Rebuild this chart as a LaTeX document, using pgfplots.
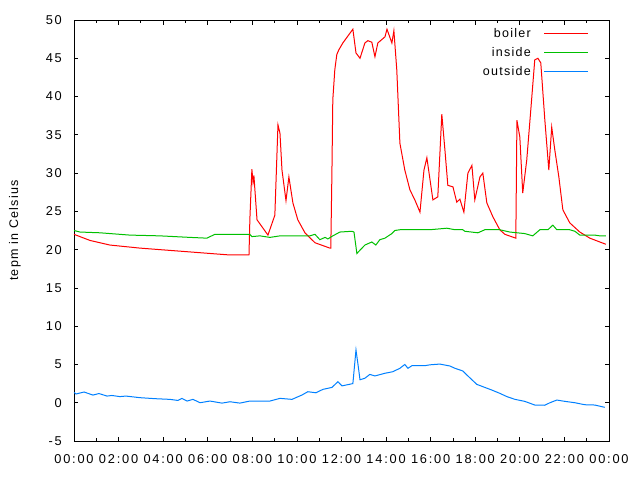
\documentclass[border=0pt]{standalone}
\usepackage{fontspec}
\setmainfont{Liberation Sans}[LetterSpace=10]
\newfontfamily\tickfont{Liberation Sans}[LetterSpace=14]
\usepackage{pgfplots}
\pgfplotsset{compat=1.18}
\definecolor{gpred}{RGB}{255,0,0}
\definecolor{gpgreen}{RGB}{0,192,0}
\definecolor{gpblue}{RGB}{0,128,255}
\begin{document}
\begin{tikzpicture}[font=\fontsize{12.5pt}{15pt}\selectfont]
\useasboundingbox (-74pt,-39pt) rectangle (566pt,441pt);
\begin{axis}[
  at={(0,0)}, anchor=south west,
  scale only axis, width=535pt, height=421pt,
  xmin=0, xmax=24, ymin=-5, ymax=50,
  xtick={0,2,...,24},
  xticklabels={00:00,02:00,04:00,06:00,08:00,10:00,12:00,14:00,16:00,18:00,20:00,22:00,00:00},
  minor xtick={1,3,...,23},
  ytick={-5,0,5,10,15,20,25,30,35,40,45,50},
  yticklabels={-5,0,5,10,15,20,25,30,35,40,45,50},
  tick align=inside, tick pos=both,
  major tick length=4.5pt, minor tick length=3pt,
  tick style={black, line width=0.8pt},
  axis line style={black, line width=0.8pt},
  xticklabel style={font=\tickfont\fontsize{12.8pt}{15pt}\selectfont, inner sep=0pt, anchor=north, yshift=-13pt},
  yticklabel style={font=\tickfont\fontsize{12.8pt}{15pt}\selectfont, inner sep=0pt, anchor=east, xshift=-12pt},
  ylabel={tepm in Celsius},
  every axis y label/.style={at={(axis description cs:0,0.5)}, anchor=center, xshift=-59pt, rotate=90},
  legend plot pos=right,
  legend cell align=right,
  legend image code/.code={\path (0pt,0pt); \draw[#1] (13pt,0pt) -- (57pt,0pt);},
  legend style={draw=none, fill=none, at={(1,1)}, anchor=north east, xshift=-20pt, yshift=-8.5pt,
    inner sep=0pt, row sep=10pt, column sep=0pt,
    nodes={inner sep=0pt, text height=9pt, text depth=0pt}},
]
\addplot[gpred, line width=1pt] coordinates {
(0,22.0) (0.72,21.2) (1.61,20.6) (2.96,20.2) (3.86,20.0) (5.65,19.6) (7.0,19.3) (7.85,19.3)
(7.89,24) (7.98,30.5) (8.03,28.8) (8.07,29.7) (8.21,23.9) (8.70,21.9) (9.01,24.5) (9.15,36.3)
(9.24,35.2) (9.33,30.4) (9.51,26.4) (9.64,29.5) (9.82,26.1) (10.04,23.9) (10.36,22.2) (10.81,20.9)
(11.48,20.2) (11.52,20.2) (11.57,30) (11.61,39.6) (11.70,43.5) (11.79,45.5) (11.88,46.1) (12.06,47.0)
(12.51,48.8) (12.65,45.7) (12.83,45.0) (13.05,47.0) (13.18,47.3) (13.36,47.1) (13.50,45.2) (13.63,47.0)
(13.95,47.8) (14.04,48.8) (14.26,47.0) (14.35,48.6) (14.48,43.5) (14.62,33.9) (14.84,30.4) (15.07,27.8)
(15.29,26.5) (15.52,24.9) (15.70,30.4) (15.83,32.0) (16.10,26.5) (16.32,26.9) (16.50,37.7) (16.64,33)
(16.77,28.4) (17.0,28.2) (17.17,26.2) (17.31,26.6) (17.49,24.9) (17.67,30) (17.85,31) (17.98,26.5)
(18.21,29.5) (18.34,30) (18.52,26.1) (18.79,24.3) (19.10,22.6) (19.33,22.0) (19.82,21.5) (19.87,36.9)
(20.0,34.7) (20.13,27.4) (20.31,31.7) (20.49,38.2) (20.67,44.8) (20.81,45.0) (20.94,44.4) (21.12,37)
(21.30,30.4) (21.43,36) (21.57,33) (21.75,29.5) (21.93,25.2) (22.24,23.5) (22.69,22.3) (23.14,21.5)
(23.59,21.0) (23.86,20.7)
};
\addlegendentry{boiler}
\addplot[gpgreen, line width=1pt] coordinates {
(0,22.5) (0.27,22.3) (1.17,22.2) (2.51,21.9) (3.86,21.8) (5.2,21.6) (5.96,21.5) (6.32,22.0)
(7.89,22.0) (7.98,21.7) (8.34,21.8) (8.79,21.6) (9.24,21.8) (10.58,21.8) (10.81,22.0) (11.03,21.3)
(11.26,21.6) (11.39,21.4) (11.61,21.8) (11.93,22.3) (12.47,22.4) (12.56,22.3) (12.69,19.5) (13.05,20.6)
(13.36,21.0) (13.54,20.6) (13.72,21.3) (13.95,21.5) (14.26,22.1) (14.39,22.5) (14.62,22.6) (15.96,22.6)
(16.73,22.8) (17.09,22.6) (17.44,22.6) (17.53,22.4) (18.12,22.2) (18.43,22.6) (19.10,22.6) (19.55,22.3)
(20.22,22.1) (20.58,21.8) (20.90,22.6) (21.26,22.6) (21.48,23.2) (21.66,22.6) (22.24,22.6) (22.47,22.4)
(22.69,21.9) (23.36,21.9) (23.59,21.8) (23.86,21.8)
};
\addlegendentry{inside}
\addplot[gpblue, line width=1pt] coordinates {
(0,1.36) (0.09,1.14) (0.45,1.4) (0.85,1.0) (1.12,1.2) (1.48,0.87) (1.70,0.95) (2.06,0.8)
(2.33,0.87) (2.96,0.66) (3.63,0.53) (4.30,0.44) (4.66,0.3) (4.84,0.57) (5.07,0.22) (5.34,0.44)
(5.65,0.0) (6.10,0.22) (6.64,-0.05) (7.0,0.13) (7.44,-0.05) (7.89,0.22) (8.79,0.22) (9.24,0.57)
(9.78,0.44) (10.22,1.0) (10.49,1.44) (10.85,1.3) (11.17,1.75) (11.57,2.0) (11.84,2.75) (12.02,2.2)
(12.51,2.5) (12.65,6.9) (12.74,5.0) (12.83,3.0) (13.05,3.2) (13.27,3.7) (13.50,3.5) (13.95,3.85)
(14.30,4.05) (14.62,4.5) (14.84,5.0) (14.98,4.5) (15.16,4.84) (15.74,4.84) (15.96,4.95) (16.41,5.05)
(16.86,4.8) (17.09,4.5) (17.44,4.15) (17.67,3.5) (17.85,3.0) (18.07,2.4) (18.43,2.0) (18.74,1.66)
(19.10,1.23) (19.42,0.8) (19.78,0.44) (20.22,0.18) (20.67,-0.3) (21.12,-0.33) (21.35,0.0) (21.66,0.35)
(22.02,0.18) (22.47,0.0) (22.91,-0.26) (23.36,-0.3) (23.81,-0.6)
};
\addlegendentry{outside}
\end{axis}
\end{tikzpicture}
\end{document}
